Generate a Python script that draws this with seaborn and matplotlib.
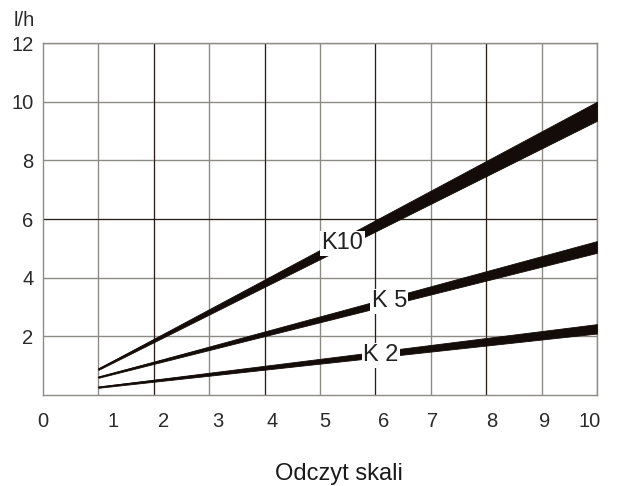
import numpy as np
import pandas as pd
import matplotlib
matplotlib.use("Agg")
import matplotlib.pyplot as plt
import seaborn as sns

# values (start and end of each band)
x_vals = [1, 10]
k10_low = [0.86, 9.35]
k10_high = [0.91, 10.0]
k5_low = [0.59, 4.85]
k5_high = [0.63, 5.25]
k2_low = [0.25, 2.1]
k2_high = [0.29, 2.42]

x_ticks = list(range(0, 11))
x_tick_labels = [str(v) for v in x_ticks]
y_ticks = [2, 4, 6, 8, 10, 12]
band_labels = ["K10", "K 5", "K 2"]

# layout: where labels sit (the original scale labels are a bit off the grid)
x_label_pos = [0, 1.26, 2.17, 3.16, 4.13, 5.09, 6.14, 7.04, 8.1, 9.06, 9.87]
band_label_pos = [(5.4, 5.18), (6.25, 3.2), (6.1, 1.36)]

sns.set_style("white")
plt.rcParams['font.family'] = ['Liberation Sans', 'DejaVu Sans']

GRAY = "#8e8a85"
DARK = "#2a1f18"
INK = "#140c08"

fig = plt.figure(figsize=(6.19, 4.86), dpi=100)
ax = fig.add_axes([0.0695, 0.187, 0.895, 0.7245])

bands = pd.DataFrame({
    "x": x_vals * 3,
    "low": k10_low + k5_low + k2_low,
    "high": k10_high + k5_high + k2_high,
    "band": ["K10"] * 2 + ["K5"] * 2 + ["K2"] * 2,
})
bands["mid"] = (bands["low"] + bands["high"]) / 2

for name, grp in bands.groupby("band"):
    ax.fill_between(grp["x"], grp["low"], grp["high"], color=INK, lw=0.6,
                    edgecolor=INK, zorder=3)
sns.lineplot(data=bands, x="x", y="mid", units="band", estimator=None,
             color=INK, lw=0.9, ax=ax, zorder=3)

for txt, (tx, ty) in zip(band_labels, band_label_pos):
    ax.text(tx, ty, txt, fontsize=17, ha="center", va="center", color="#222222",
            zorder=5, bbox=dict(facecolor="white", edgecolor="none", pad=1.0))

ax.set_xlim(0, 10)
ax.set_ylim(0, 12)
# grid lines on the integer positions, labels where the original prints them
ax.set_xticks(x_ticks, minor=True)
ax.set_xticks(x_label_pos)
ax.set_xticklabels(x_tick_labels)
ax.set_yticks(y_ticks)
ax.grid(True, which="minor", axis="x", color=GRAY, lw=1.0)
ax.grid(True, which="major", axis="y", color=GRAY, lw=1.0)
ax.grid(False, which="major", axis="x")
for v in [2, 4, 6, 8]:
    ax.axvline(v, color=DARK, lw=0.8, zorder=1)
ax.axhline(6, color=DARK, lw=0.8, zorder=1)
ax.set_axisbelow(True)
for sp in ax.spines.values():
    sp.set_color(GRAY)
    sp.set_linewidth(1.0)
ax.tick_params(axis="both", which="both", length=0, labelsize=14.5, colors="#2a2a2a")
ax.tick_params(axis="x", pad=12)
ax.tick_params(axis="y", pad=7)
ax.set_xlabel("")
ax.set_ylabel("")
fig.text(339 / 619, 1 - 474 / 486, "Odczyt skali", fontsize=17, ha="center",
         va="center", color="#1a1a1a")
fig.text(24 / 619, 1 - 21 / 486, "l/h", fontsize=14.5, ha="center", va="center",
         color="#2a2a2a")

fig.savefig("out.png", dpi=100)
